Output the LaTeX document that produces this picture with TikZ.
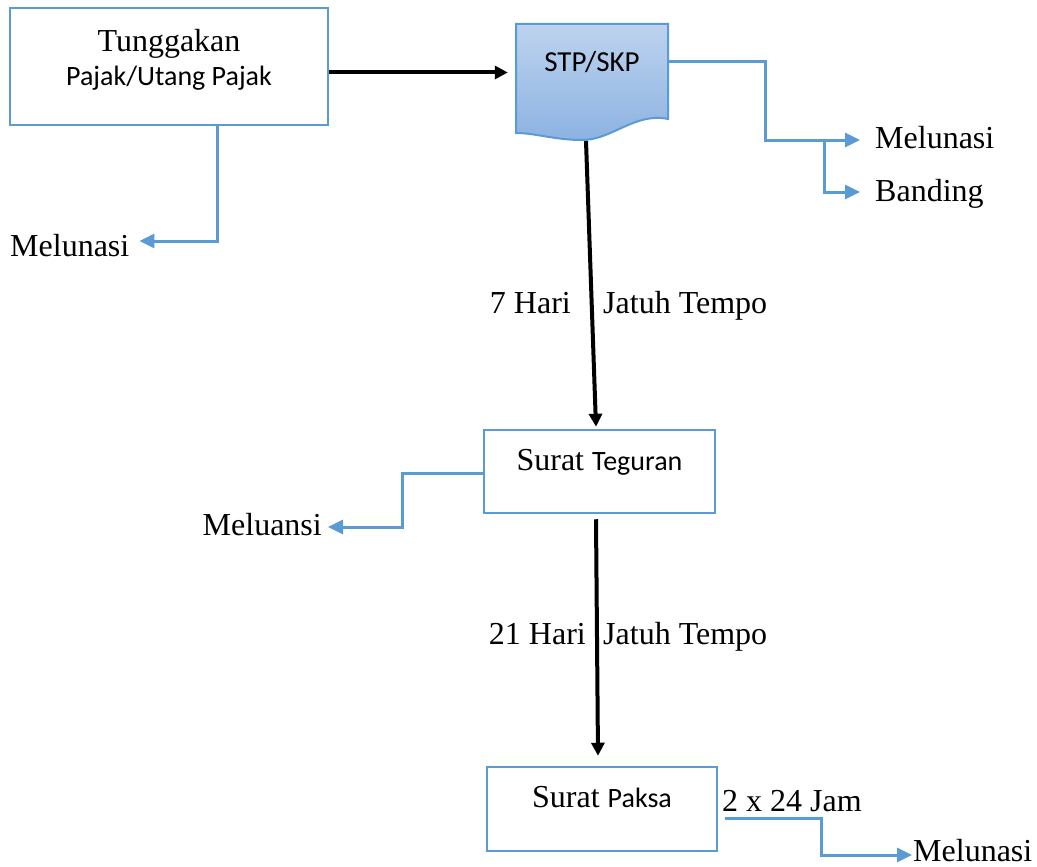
\documentclass[tikz,border=0pt]{standalone}
\usepackage{fontspec}
\setmainfont{Liberation Serif}
\newfontfamily\calibri{Carlito}
\usetikzlibrary{arrows.meta}

\definecolor{lineblue}{HTML}{5B9BD5}
\definecolor{doctop}{HTML}{BDD3EE}
\definecolor{docbot}{HTML}{8DB3E2}

\tikzset{
  box/.style={draw=lineblue, line width=2.5pt, rectangle, inner sep=0pt},
  lbl/.style={font=\fontsize{32}{38}\selectfont, inner sep=0pt},
  tag/.style={lbl, text height=22pt, text depth=0pt},
  cal/.style={font=\calibri\fontsize{28}{34}\selectfont, inner sep=0pt, text height=19pt, text depth=0pt},
  bluearrow/.style={draw=lineblue, line width=3pt, -{Triangle[length=15pt,width=14pt]}},
  blackarrow/.style={line width=4pt, -{Triangle[length=13pt,width=13pt]}},
}

\begin{document}
\begin{tikzpicture}[x=1pt, y=-1pt]
  \useasboundingbox (0,0) rectangle (1037,867);

  % -- Tunggakan box --
  \node[box, minimum width=318pt, minimum height=117pt] (tunggakan) at (169,66.5) {};
  \node[lbl, align=center] (tunggakantext) at ([yshift=-53pt]tunggakan.north)
    {Tunggakan\\[-4pt]{\calibri\fontsize{28}{34}\selectfont Pajak/Utang Pajak}};

  % -- STP/SKP document --
  \shade[top color=doctop, bottom color=docbot, draw=lineblue, line width=2pt]
    (516,24) -- (668,24) -- (668,119)
    .. controls (635,112) and (612,140) .. (582,140)
    .. controls (555,140) and (535,133) .. (516,133) -- cycle;
  \node[cal, minimum width=152pt, font=\calibri\fontsize{29}{34}\selectfont] (stp) at (592,62) {STP/SKP};
  \coordinate (stpbot) at (586,141);

  % -- Surat Teguran / Surat Paksa --
  \node[box, minimum width=231pt, minimum height=83pt] (teguran) at (599.5,471.5) {};
  \node[tag] (tegurantext) at ([yshift=-31pt]teguran.north) {Surat {\calibri\fontsize{28}{34}\selectfont Teguran}};
  \node[box, minimum width=230pt, minimum height=84pt] (paksa) at (602,809) {};
  \node[tag] (paksatext) at ([yshift=-31pt]paksa.north) {Surat {\calibri\fontsize{28}{34}\selectfont Paksa}};

  % -- Outcome labels --
  \node[tag, anchor=west] (mel1) at (10,245) {Melunasi};
  \node[tag, anchor=west] (melstp) at (875,137) {Melunasi};
  \node[tag, anchor=west] (banding) at (875,190) {Banding};
  \node[tag, anchor=east] (meluansi) at (322,524) {Meluansi};
  \node[tag, anchor=west] (melpaksa) at (913,850) {Melunasi};

  % -- Time labels --
  \node[tag, anchor=east] (hari7) at (571,302) {7 Hari};
  \node[tag, anchor=west] (tempo1) at (603,302) {Jatuh Tempo};
  \node[tag, anchor=east] (hari21) at (586,633) {21 Hari};
  \node[tag, anchor=west] (tempo2) at (603,633) {Jatuh Tempo};
  \node[tag, anchor=west] (jam) at (722,800) {2 x 24 Jam};

  % -- Main flow --
  \draw[blackarrow, shorten >=8pt] ([yshift=-6pt]tunggakan.east) -- ([yshift=-6pt]tunggakan.east -| stp.west);
  \draw[blackarrow] (stpbot) -- ([xshift=-3.5pt,yshift=2pt]teguran.north);
  \draw[blackarrow] ([xshift=-3.5pt,yshift=-5pt]teguran.south) -- ([xshift=-4pt,yshift=10pt]paksa.north);

  % -- Side exits --
  \draw[bluearrow, shorten >=10pt] ([xshift=48pt]tunggakan.south) |- ([yshift=4pt]mel1.east);
  \draw[bluearrow, shorten >=15pt] (stp.east) -- ++(97,0) |- ([yshift=-3pt]melstp.west);
  \coordinate (split) at (824,140);
  \draw[bluearrow, shorten >=15pt] (split) |- ([yshift=-2pt]banding.west);
  \draw[bluearrow, shorten >=6pt] ([yshift=-1.5pt]teguran.west) -- ++(-80,0) |- ([yshift=-3pt]meluansi.east);
  \draw[bluearrow, shorten >=1pt] ([xshift=7pt,yshift=-9pt]paksa.east) -- ++(96,0) |- ([yshift=-5pt]melpaksa.west);

\end{tikzpicture}
\end{document}
